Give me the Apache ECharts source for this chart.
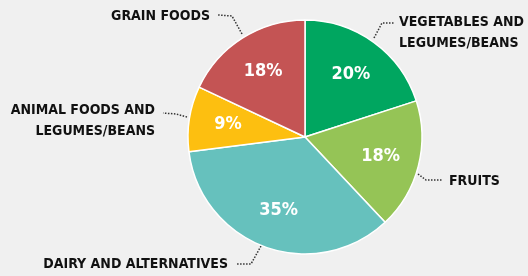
<!DOCTYPE html>
<html>
<head>
<meta charset="utf-8">
<script src="https://cdn.jsdelivr.net/npm/echarts@6/dist/echarts.min.js"></script>
<style>
  html, body { margin: 0; padding: 0; background: #f0f0f0; }
  #pieChart { width: 528px; height: 276px; }
</style>
</head>
<body>
<div id="pieChart"></div>
<script>
// food groups, clockwise from 12 o'clock
const groups = ['VEGETABLES AND\nLEGUMES/BEANS', 'FRUITS', 'DAIRY AND ALTERNATIVES', 'ANIMAL FOODS AND\nLEGUMES/BEANS', 'GRAIN FOODS']
const shares = [20, 18, 35, 9, 18]
const colors = ['#00a660', '#95c456', '#66c1bd', '#fdbf10', '#c45454']

const font = '"DejaVu Sans Condensed", "Roboto", sans-serif'

// where each outside label sits, and its dotted leader
const labelSpots = [
  { x: 399, y: 33, align: 'left', line: [[374, 38], [382, 23], [394, 23]] },
  { x: 449, y: 181, align: 'left', line: [[418, 174], [426, 180], [443, 180]] },
  { x: 228, y: 264, align: 'right', line: [[261, 246], [251, 264], [236, 264]] },
  { x: 155, y: 121, align: 'right', line: [[187, 117], [176, 114], [163, 113]] },
  { x: 210, y: 16, align: 'right', line: [[242, 34], [232, 16], [218, 15]] }
]

const pieData = groups.map((name, i) => ({ name, value: shares[i], itemStyle: { color: colors[i] } }))

const chart = echarts.init(document.getElementById('pieChart'))
chart.setOption({
  backgroundColor: '#f0f0f0',
  animation: false,
  series: [
    {
      type: 'pie',
      center: [305, 137],
      radius: 117,
      startAngle: 90,
      clockwise: true,
      data: pieData,
      itemStyle: { borderColor: '#fff', borderWidth: 1.5 },
      label: {
        show: true,
        position: 'outside',
        overflow: 'none',
        color: '#111',
        fontFamily: font,
        fontWeight: 'bold',
        fontSize: 14,
        lineHeight: 21
      },
      labelLine: {
        show: true,
        length: 12,
        length2: 14,
        lineStyle: { color: '#333', type: 'dotted', width: 1.5 }
      },
      labelLayout (params) {
        const s = labelSpots[params.dataIndex]
        return { x: s.x, y: s.y, align: s.align, verticalAlign: 'middle', labelLinePoints: s.line }
      }
    },
    {
      // transparent copy that only carries the percent labels
      type: 'pie',
      center: [305, 137],
      radius: [33, 117],
      startAngle: 90,
      clockwise: true,
      silent: true,
      data: pieData.map(d => ({ name: d.name, value: d.value })),
      itemStyle: { color: 'rgba(0,0,0,0)' },
      label: {
        show: true,
        position: 'inside',
        formatter: '{c}%',
        color: '#fff',
        fontFamily: font,
        fontWeight: 'bold',
        fontSize: 18
      },
      labelLine: { show: false }
    }
  ]
})
</script>
</body>
</html>
